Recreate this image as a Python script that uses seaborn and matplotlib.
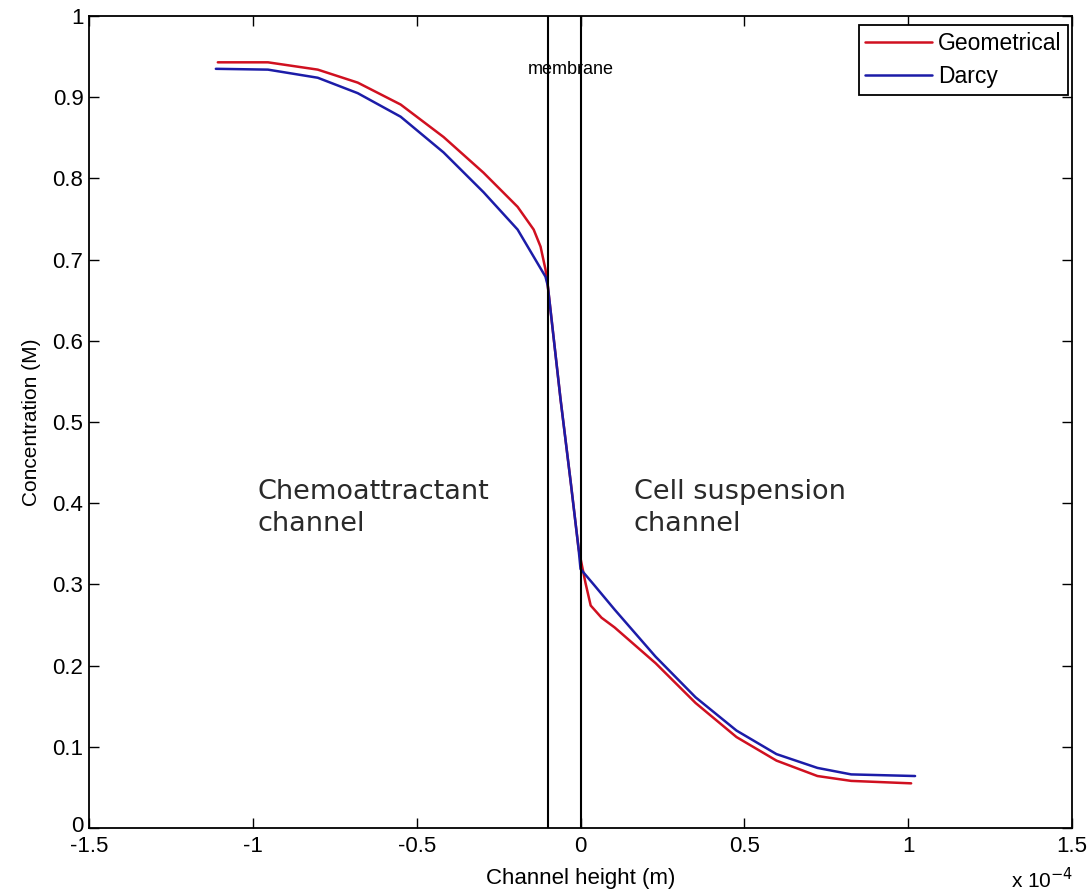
import numpy as np
import pandas as pd
import matplotlib
matplotlib.use("Agg")
import matplotlib.pyplot as plt
import matplotlib.transforms as mtransforms
import seaborn as sns

# Channel height in units of 1e-4 m
geo_x = [-1.107, -0.954, -0.802, -0.680, -0.549, -0.418, -0.296, -0.192, -0.143, -0.122, -0.107,
         -0.100, -0.061, -0.030, -0.006, 0.000, 0.015, 0.031, 0.064, 0.104, 0.229, 0.351,
         0.476, 0.598, 0.723, 0.826, 1.009]
geo_y = [0.943, 0.943, 0.934, 0.918, 0.891, 0.851, 0.807, 0.765, 0.737, 0.716, 0.688,
         0.668, 0.528, 0.426, 0.344, 0.332, 0.302, 0.274, 0.259, 0.247, 0.203, 0.154,
         0.112, 0.083, 0.064, 0.058, 0.055]

darcy_x = [-1.113, -0.954, -0.802, -0.680, -0.549, -0.418, -0.296, -0.192, -0.107,
           -0.100, -0.061, -0.030, -0.006, 0.000, 0.042, 0.104, 0.229, 0.351, 0.476,
           0.598, 0.723, 0.826, 1.021]
darcy_y = [0.935, 0.934, 0.924, 0.905, 0.876, 0.832, 0.783, 0.737, 0.679,
           0.668, 0.528, 0.426, 0.344, 0.319, 0.299, 0.269, 0.211, 0.161, 0.120,
           0.091, 0.074, 0.066, 0.064]

series_names = ["Geometrical", "Darcy"]
series_colors = ["#d01020", "#1c1ca8"]
membrane_x = [-0.1, 0.0]
x_ticks = [-1.5, -1, -0.5, 0, 0.5, 1, 1.5]
x_ticklabels = ["-1.5", "-1", "-0.5", "0", "0.5", "1", "1.5"]
y_ticks = [0, 0.1, 0.2, 0.3, 0.4, 0.5, 0.6, 0.7, 0.8, 0.9, 1]
y_ticklabels = ["0", "0.1", "0.2", "0.3", "0.4", "0.5", "0.6", "0.7", "0.8", "0.9", "1"]

sns.set_theme(style="white")
plt.rcParams['font.family'] = ['Liberation Sans', 'DejaVu Sans']
plt.rcParams['text.color'] = 'black'
plt.rcParams['axes.labelcolor'] = 'black'

fig = plt.figure(figsize=(10.9, 8.96), dpi=100)
ax = fig.add_axes([0.0817, 0.0759, 0.9018, 0.9062])

for name, color, xs, ys in zip(series_names, series_colors, [geo_x, darcy_x], [geo_y, darcy_y]):
    sub = pd.DataFrame({"x": xs, "y": ys})
    sns.lineplot(data=sub, x="x", y="y", sort=False, estimator=None, color=color,
                 linewidth=1.8, ax=ax, label=name)

for mx in membrane_x:
    ax.axvline(mx, color="black", linewidth=1.5)

ax.set_xlim(-1.5, 1.5)
ax.set_ylim(0, 1)
ax.set_xticks(x_ticks)
ax.set_xticklabels(x_ticklabels)
ax.set_yticks(y_ticks)
ax.set_yticklabels(y_ticklabels)
ax.tick_params(direction="in", length=7, width=1, top=True, right=True, bottom=True, left=True,
               labelsize=16, colors="black")
ax.tick_params(axis="x", pad=6)
ax.tick_params(axis="y", pad=4)
# nudge the "0" label up slightly, as in the reference
zero_lab = ax.get_yticklabels()[0]
zero_lab.set_transform(zero_lab.get_transform() +
                       mtransforms.ScaledTranslation(0, 4 / 100, fig.dpi_scale_trans))
for s in ax.spines.values():
    s.set_color("black")
    s.set_linewidth(1.3)
ax.set_xlabel("Channel height (m)", fontsize=16, labelpad=8, color="black")
ax.set_ylabel("Concentration (M)", fontsize=15, labelpad=8, color="black")

ax.text(-0.03, 0.934, "membrane", fontsize=13, ha="center", va="center", color="black")
ax.text(-0.985, 0.394, "Chemoattractant\nchannel", fontsize=19.5, ha="left", va="center",
        family=["DejaVu Sans"], color="#2a2a2a", linespacing=1.3)
ax.text(0.162, 0.394, "Cell suspension\nchannel", fontsize=19.5, ha="left", va="center",
        family=["DejaVu Sans"], color="#2a2a2a", linespacing=1.3)

fig.text(0.9565, 0.004, "x 10$^{-4}$", fontsize=15, ha="center", va="bottom", color="black")

leg = ax.legend(loc="upper right", bbox_to_anchor=(1068 / 1090, 1 - 25 / 896),
                bbox_transform=fig.transFigure, fontsize=16.5, frameon=True, fancybox=False,
                framealpha=1.0, borderaxespad=0.0, handlelength=2.9, borderpad=0.3,
                labelspacing=0.45, handletextpad=0.25)
leg.get_frame().set_edgecolor("black")
leg.get_frame().set_linewidth(1.3)
for t in leg.get_texts():
    t.set_color("black")

fig.savefig("out.png", dpi=100, facecolor="white")
